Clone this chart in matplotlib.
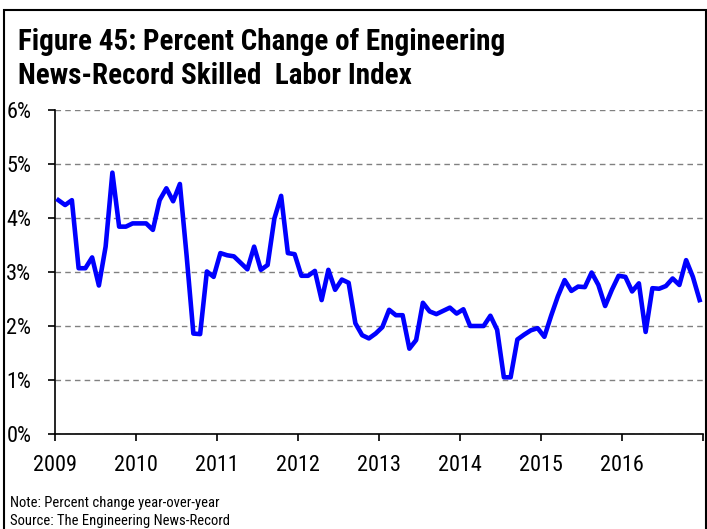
import numpy as np
import matplotlib
matplotlib.use('Agg')
import matplotlib.pyplot as plt
from matplotlib import font_manager
from matplotlib.patches import Rectangle

# look for a narrow sans face, else fall back to a regular one
names = {f.name for f in font_manager.fontManager.ttflist}
narrow = [n for n in ['Liberation Sans Narrow', 'Arial Narrow', 'Roboto Condensed',
                      'DejaVu Sans Condensed', 'Open Sans Condensed', 'Noto Sans Condensed']
          if n in names]
if narrow:
    plt.rcParams['font.family'] = [narrow[0], 'DejaVu Sans']
    scale = 1.0
else:
    plt.rcParams['font.family'] = ['Liberation Sans', 'DejaVu Sans']
    scale = 0.85

# monthly % change, Jan 2009 - Dec 2016
pct_change = [4.33, 4.24, 4.33, 3.07, 3.07, 3.27, 2.75, 3.47, 4.84, 3.84, 3.84, 3.90,
              3.90, 3.90, 3.78, 4.33, 4.55, 4.31, 4.63, 3.30, 1.86, 1.85, 3.01, 2.91,
              3.35, 3.31, 3.29, 3.17, 3.05, 3.47, 3.04, 3.13, 3.99, 4.41, 3.35, 3.33,
              2.93, 2.93, 3.02, 2.48, 3.04, 2.67, 2.86, 2.80, 2.05, 1.83, 1.77, 1.86,
              1.98, 2.30, 2.20, 2.20, 1.58, 1.74, 2.43, 2.27, 2.22, 2.28, 2.34, 2.23,
              2.31, 2.00, 2.00, 2.00, 2.19, 1.93, 1.05, 1.05, 1.75, 1.84, 1.92, 1.96,
              1.80, 2.19, 2.55, 2.85, 2.65, 2.73, 2.72, 2.99, 2.76, 2.37, 2.67, 2.93,
              2.91, 2.64, 2.79, 1.89, 2.70, 2.69, 2.74, 2.88, 2.76, 3.22, 2.91, 2.48]
years = [2009, 2010, 2011, 2012, 2013, 2014, 2015, 2016]
y_ticks = [0, 1, 2, 3, 4, 5, 6]

x = years[0] + (np.arange(len(pct_change)) + 0.5) / 12

W, H = 707, 529
fig = plt.figure(figsize=(W / 100, H / 100), dpi=100)
ax = fig.add_axes([55 / W, (H - 434) / H, 648 / W, 324 / H])

ax.plot(x, pct_change, color='#0000ff', lw=3.3, zorder=3)

ax.set_xlim(2009, 2017)
ax.set_ylim(0, 6)
ax.set_xticks(years + [2017])
ax.set_xticklabels([str(y) for y in years] + [''])
ax.set_yticks(y_ticks)
ax.set_yticklabels([f'{v}%' for v in y_ticks])
ax.yaxis.grid(True, color='#808080', lw=1, ls=(0, (4, 3)))
ax.set_axisbelow(True)
for s in ['top', 'right']:
    ax.spines[s].set_visible(False)
for s in ['left', 'bottom']:
    ax.spines[s].set_linewidth(1.2)
ax.tick_params(axis='both', direction='out', length=5, width=1.2, labelsize=16 * scale)
ax.tick_params(axis='x', pad=10)
ax.tick_params(axis='y', pad=12)

fig.text(18 / W, 1 - 50 / H, 'Figure 45: Percent Change of Engineering',
         fontsize=21 * scale, fontweight='bold', va='baseline')
fig.text(18 / W, 1 - 84 / H, 'News-Record Skilled  Labor Index',
         fontsize=21 * scale, fontweight='bold', va='baseline')
fig.text(10 / W, 1 - 503 / H, 'Note: Percent change year-over-year', fontsize=10.5 * scale, va='center')
fig.text(10 / W, 1 - 521 / H, 'Source: The Engineering News-Record', fontsize=10.5 * scale, va='center')

fig.patches.append(Rectangle((3.5 / W, -0.05), (706 - 3.5) / W, (H - 10) / H + 0.05,
                             transform=fig.transFigure, fill=False, lw=1.5, ec='black'))

fig.savefig('out.png', dpi=100)
